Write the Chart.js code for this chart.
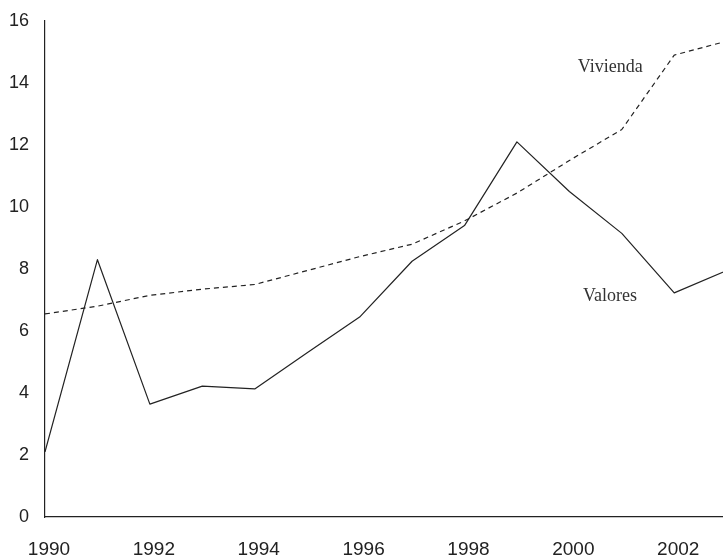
<!DOCTYPE html>
<html lang="es">
<head>
<meta charset="UTF-8">
<title>Vivienda y Valores</title>
<script src="https://cdn.jsdelivr.net/npm/chart.js"></script>
<style>
html,body{margin:0;padding:0;background:#fff;}
#wrap{width:723px;height:558px;position:relative;}
</style>
</head>
<body>
<div id="wrap"><canvas id="chart"></canvas></div>
<script>
/* ---- data ---- */
const years      = [1990,1991,1992,1993,1994,1995,1996,1997,1998,1999,2000,2001,2002,2003];
const vivienda   = [6.55,6.8,7.15,7.35,7.5,7.95,8.4,8.8,9.55,10.45,11.5,12.5,14.9,15.35];
const valores    = [2.1,8.3,3.64,4.22,4.13,5.3,6.45,8.25,9.4,12.1,10.5,9.15,7.23,7.95];
const xTicks     = [1990,1992,1994,1996,1998,2000,2002];
const yTicks     = [0,2,4,6,8,10,12,14,16];
const labelNames = ["Vivienda","Valores"];
const labelX     = [2000.16,2000.26];
const labelY     = [14.35,6.97];

const INK="#222";

const pts=arr=>arr.map((v,i)=>({x:years[i],y:v}));

/* in-chart series names, placed through the scales */
const seriesLabels={
    id:"seriesLabels",
    afterDatasetsDraw(chart){
        const {ctx,scales:{x,y}}=chart;
        ctx.save();
        ctx.font="18px 'Liberation Serif', 'Times New Roman', serif";
        ctx.fillStyle="#333";
        ctx.textAlign="left";
        ctx.textBaseline="alphabetic";
        labelNames.forEach((t,i)=>{
            ctx.fillText(t,x.getPixelForValue(labelX[i]),y.getPixelForValue(labelY[i]));
        });
        ctx.restore();
    }
};

const noPad=s=>{s.paddingTop=0;s.paddingBottom=0;s.paddingLeft=0;s.paddingRight=0;};

new Chart(document.getElementById("chart"),{
    type:"line",
    data:{
        datasets:[
            {label:"Vivienda",data:pts(vivienda),borderColor:INK,borderWidth:1.2,
             borderDash:[5,4],pointRadius:0,tension:0,borderJoinStyle:"round"},
            {label:"Valores",data:pts(valores),borderColor:INK,borderWidth:1.2,
             pointRadius:0,tension:0,borderJoinStyle:"round"}
        ]
    },
    options:{
        animation:false,
        responsive:true,
        maintainAspectRatio:false,
        layout:{padding:{top:21,right:0,bottom:0,left:0}},
        plugins:{legend:{display:false},tooltip:{enabled:false}},
        scales:{
            x:{
                type:"linear",min:1990,max:2002.93,
                grid:{display:false,drawTicks:false},
                border:{display:true,color:INK,width:1.2},
                afterBuildTicks:s=>{s.ticks=xTicks.map(v=>({value:v}));},
                ticks:{color:"#222",padding:21,labelOffset:4,
                       font:{family:"'Liberation Sans', Arial, sans-serif",size:19},
                       maxRotation:0,callback:v=>String(v)},
                afterFit:s=>{s.height=41;noPad(s);}
            },
            y:{
                min:0,max:16,
                grid:{display:false,drawTicks:false},
                border:{display:true,color:INK,width:1.2},
                afterBuildTicks:s=>{s.ticks=yTicks.map(v=>({value:v}));},
                ticks:{color:"#222",padding:16,font:{family:"'Liberation Sans', Arial, sans-serif",size:18}},
                afterFit:s=>{s.width=45;noPad(s);}
            }
        }
    },
    plugins:[seriesLabels]
});
</script>
</body>
</html>
